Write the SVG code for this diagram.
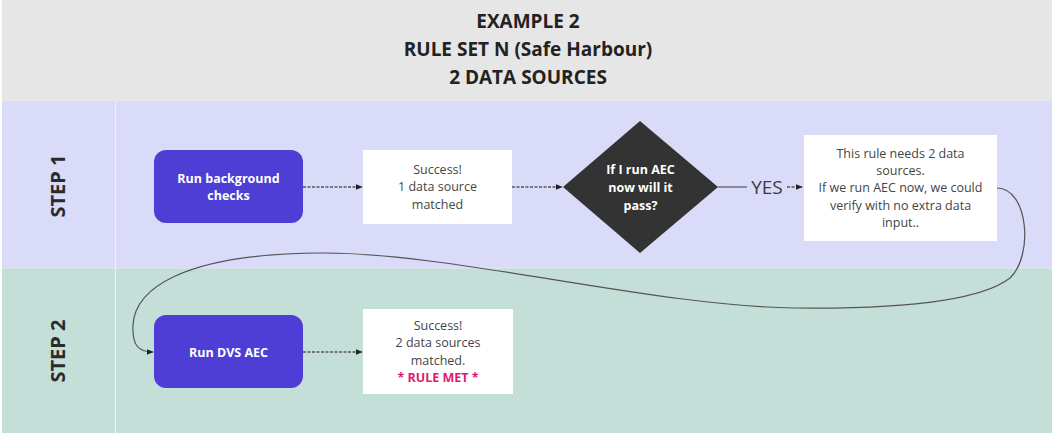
<svg xmlns="http://www.w3.org/2000/svg" width="1057" height="439" viewBox="0 0 1057 439">
<defs>
<style>
.hdr{font-family:"Open Sans","Liberation Sans",sans-serif;font-weight:700;font-size:19px;fill:#222;text-anchor:middle}
.step{font-family:"Open Sans","Liberation Sans",sans-serif;font-weight:700;font-size:20px;fill:#2b2b2b;text-anchor:middle}
.wt{font-family:"Open Sans","Liberation Sans",sans-serif;font-weight:700;font-size:12.5px;fill:#ffffff;text-anchor:middle}
.gt{font-family:"Open Sans","Liberation Sans",sans-serif;font-size:12.5px;fill:#454545;text-anchor:middle}
.pk{font-family:"Open Sans","Liberation Sans",sans-serif;font-weight:700;font-size:12.5px;fill:#de1a6c;text-anchor:middle}
.yes{font-family:"Open Sans","Liberation Sans",sans-serif;font-size:19px;fill:#3a3a3a;text-anchor:middle}
.proc{fill:#4e3ed6}
.box{fill:#ffffff}
.dash{fill:none;stroke:#555;stroke-width:1.4;stroke-dasharray:3 1.5}
.solid{fill:none;stroke:#555;stroke-width:1.2}
</style>
<marker id="ah" viewBox="0 0 10 10" refX="9" refY="5" markerWidth="7" markerHeight="7" markerUnits="userSpaceOnUse" orient="auto">
<path d="M0,1 L10,5 L0,9 Z" fill="#222"/>
</marker>
</defs>
<rect width="1057" height="439" fill="#ffffff"/>
<g id="lanes">
<rect x="2" y="0" width="1050" height="101" fill="#e6e6e6"/>
<rect x="2" y="101" width="1050" height="167" fill="#dadaf9"/>
<rect x="2" y="268" width="1050" height="165" fill="#c4ded8"/>
<line x1="115.5" y1="101" x2="115.5" y2="433" stroke="#eef0f3" stroke-width="1.2"/>
<line x1="2" y1="268" x2="1052" y2="268" stroke="#e2e6ee" stroke-width="1"/>
</g>
<g id="header">
<text class="hdr" x="528" y="28">EXAMPLE 2</text>
<text class="hdr" x="528" y="56">RULE SET N (Safe Harbour)</text>
<text class="hdr" x="528" y="84">2 DATA SOURCES</text>
</g>
<g id="step1-label"><text class="step" transform="translate(65,186) rotate(-90)">STEP 1</text></g>
<g id="step2-label"><text class="step" transform="translate(65,351) rotate(-90)">STEP 2</text></g>
<g id="connectors">
<path class="dash" d="M303,187 L362,187" marker-end="url(#ah)"/>
<path class="dash" d="M512,187 L562,187" marker-end="url(#ah)"/>
<path class="solid" d="M718,187 L747,187"/>
<path class="dash" d="M787,187 L802,187" marker-end="url(#ah)"/>
<path class="solid" d="M997,188 C1028,188 1034,255 1010,278 C975,305 880,309 795,308 C650,306 450,252 320,253 C180,254 135,290 133,325 C132,345 138,352 153,352" marker-end="url(#ah)"/>
<path class="dash" d="M303,352 L362,352" marker-end="url(#ah)"/>
</g>
<g id="run-background-checks">
<rect class="proc" x="154" y="150" width="149" height="73" rx="12"/>
<text class="wt" x="228.5" y="183">Run background</text>
<text class="wt" x="228.5" y="200">checks</text>
</g>
<g id="success-1">
<rect class="box" x="363" y="150" width="149" height="74"/>
<text class="gt" x="437.5" y="173.5">Success!</text>
<text class="gt" x="437.5" y="191">1 data source</text>
<text class="gt" x="437.5" y="208.5">matched</text>
</g>
<g id="decision">
<polygon points="640,121 718,187 640,253 563,187" fill="#333333"/>
<text class="wt" x="640.5" y="174">If I run AEC</text>
<text class="wt" x="640.5" y="192">now will it</text>
<text class="wt" x="640.5" y="210">pass?</text>
</g>
<g id="yes-label"><text class="yes" x="767" y="194">YES</text></g>
<g id="rule-needs">
<rect class="box" x="804" y="135" width="193" height="106"/>
<text class="gt" x="900.5" y="157.5">This rule needs 2 data</text>
<text class="gt" x="900.5" y="175">sources.</text>
<text class="gt" x="900.5" y="192">If we run AEC now, we could</text>
<text class="gt" x="900.5" y="209.5">verify with no extra data</text>
<text class="gt" x="900.5" y="227">input..</text>
</g>
<g id="run-dvs-aec">
<rect class="proc" x="154" y="315" width="149" height="73" rx="12"/>
<text class="wt" x="228.5" y="356.5">Run DVS AEC</text>
</g>
<g id="success-2">
<rect class="box" x="363" y="309" width="150" height="85"/>
<text class="gt" x="438" y="329.5">Success!</text>
<text class="gt" x="438" y="347">2 data sources</text>
<text class="gt" x="438" y="364.5">matched.</text>
<text class="pk" x="438" y="382">* RULE MET *</text>
</g>
</svg>
